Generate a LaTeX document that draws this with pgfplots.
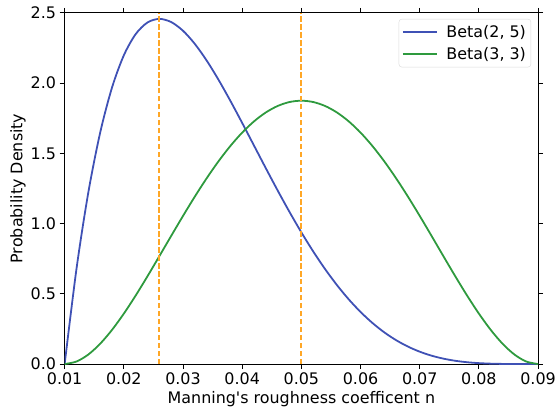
\documentclass[border=0pt]{standalone}
\usepackage{pgfplots}
\pgfplotsset{compat=1.18}
\usepackage{fontspec}
\setmainfont{DejaVu Sans}[Ligatures=TeXOff]
\definecolor{betablue}{HTML}{3F51B5}
\definecolor{betagreen}{HTML}{2E9A3E}
\definecolor{modeorange}{HTML}{FFA726}

% Beta densities mapped onto n in [0.01, 0.09]
\pgfplotstableread{
x      b25       b33
0.010  0.000000  0.000000
0.012  0.677766  0.017824
0.014  1.221759  0.067688
0.016  1.647211  0.144387
0.018  1.968300  0.243000
0.020  2.198181  0.358887
0.022  2.349028  0.487688
0.024  2.432063  0.625324
0.026  2.457600  0.768000
0.028  2.435063  0.912199
0.030  2.373047  1.054688
0.032  2.279327  1.192512
0.034  2.160900  1.323000
0.036  2.024042  1.443762
0.038  1.874313  1.552688
0.040  1.716614  1.647949
0.042  1.555200  1.728000
0.044  1.393741  1.791574
0.046  1.235334  1.837688
0.048  1.082558  1.865637
0.050  0.937500  1.875000
0.052  0.801785  1.865637
0.054  0.676603  1.837688
0.056  0.562784  1.791574
0.058  0.460800  1.728000
0.060  0.370789  1.647949
0.062  0.292622  1.552688
0.064  0.225927  1.443762
0.066  0.170100  1.323000
0.068  0.124391  1.192512
0.070  0.087891  1.054688
0.072  0.059588  0.912199
0.074  0.038400  0.768000
0.076  0.023212  0.625324
0.078  0.012909  0.487688
0.080  0.006409  0.358887
0.082  0.002700  0.243000
0.084  0.000878  0.144387
0.086  0.000178  0.067688
0.088  0.000011  0.017824
0.090  0.000000  0.000000
}\betatable

% modes of the two densities
\pgfplotstableread{
x      y
0.026  0
0.026  2.5
}\modeA
\pgfplotstableread{
x      y
0.050  0
0.050  2.5
}\modeB

\begin{document}
\begin{tikzpicture}
\begin{axis}[
  scale only axis,
  width=476pt, height=353pt,
  xmin=0.01, xmax=0.09, ymin=0, ymax=2.5,
  xtick={0.01,0.02,...,0.09},
  ytick={0,0.5,...,2.5},
  xticklabel style={/pgf/number format/.cd, fixed, fixed zerofill, precision=2},
  yticklabel style={/pgf/number format/.cd, fixed, fixed zerofill, precision=1},
  /pgf/number format/assume math mode=true,
  scaled x ticks=false,
  tick align=outside,
  major tick length=5pt,
  tick style={black, line width=0.9pt},
  axis line style={line width=0.9pt},
  tick label style={font=\fontsize{16}{19}\selectfont, inner sep=3.5pt},
  label style={font=\fontsize{16}{19}\selectfont},
  xlabel={Manning's roughness coefficent n},
  ylabel={Probability Density},
  xlabel style={at={(axis description cs:0.5,-0.0765)}, anchor=north, inner sep=0pt},
  ylabel style={at={(axis description cs:-0.1155,0.5)}, anchor=north, inner sep=0pt},
  legend style={at={(0.9853,0.983)}, anchor=north east, font=\fontsize{16}{19}\selectfont,
    draw=black!15, rounded corners=3pt, inner xsep=3pt, inner ysep=4pt, row sep=5pt,
    /tikz/every odd column/.append style={column sep=7pt}},
  legend cell align=left,
  legend image code/.code={\draw[#1, line width=1.8pt] (0pt,0pt) -- (34pt,0pt);},
]
\addplot[betablue, line width=1.8pt, smooth] table[x=x, y=b25] {\betatable};
\addlegendentry{Beta(2, 5)}
\addplot[betagreen, line width=1.8pt, smooth] table[x=x, y=b33] {\betatable};
\addlegendentry{Beta(3, 3)}
\addplot[modeorange, line width=1.8pt, dash pattern=on 5.5pt off 2.5pt, forget plot] table {\modeA};
\addplot[modeorange, line width=1.8pt, dash pattern=on 5.5pt off 2.5pt, forget plot] table {\modeB};
\end{axis}
\pgfresetboundingbox
\path (-65pt,-46pt) rectangle (495pt,366pt);
\end{tikzpicture}
\end{document}
